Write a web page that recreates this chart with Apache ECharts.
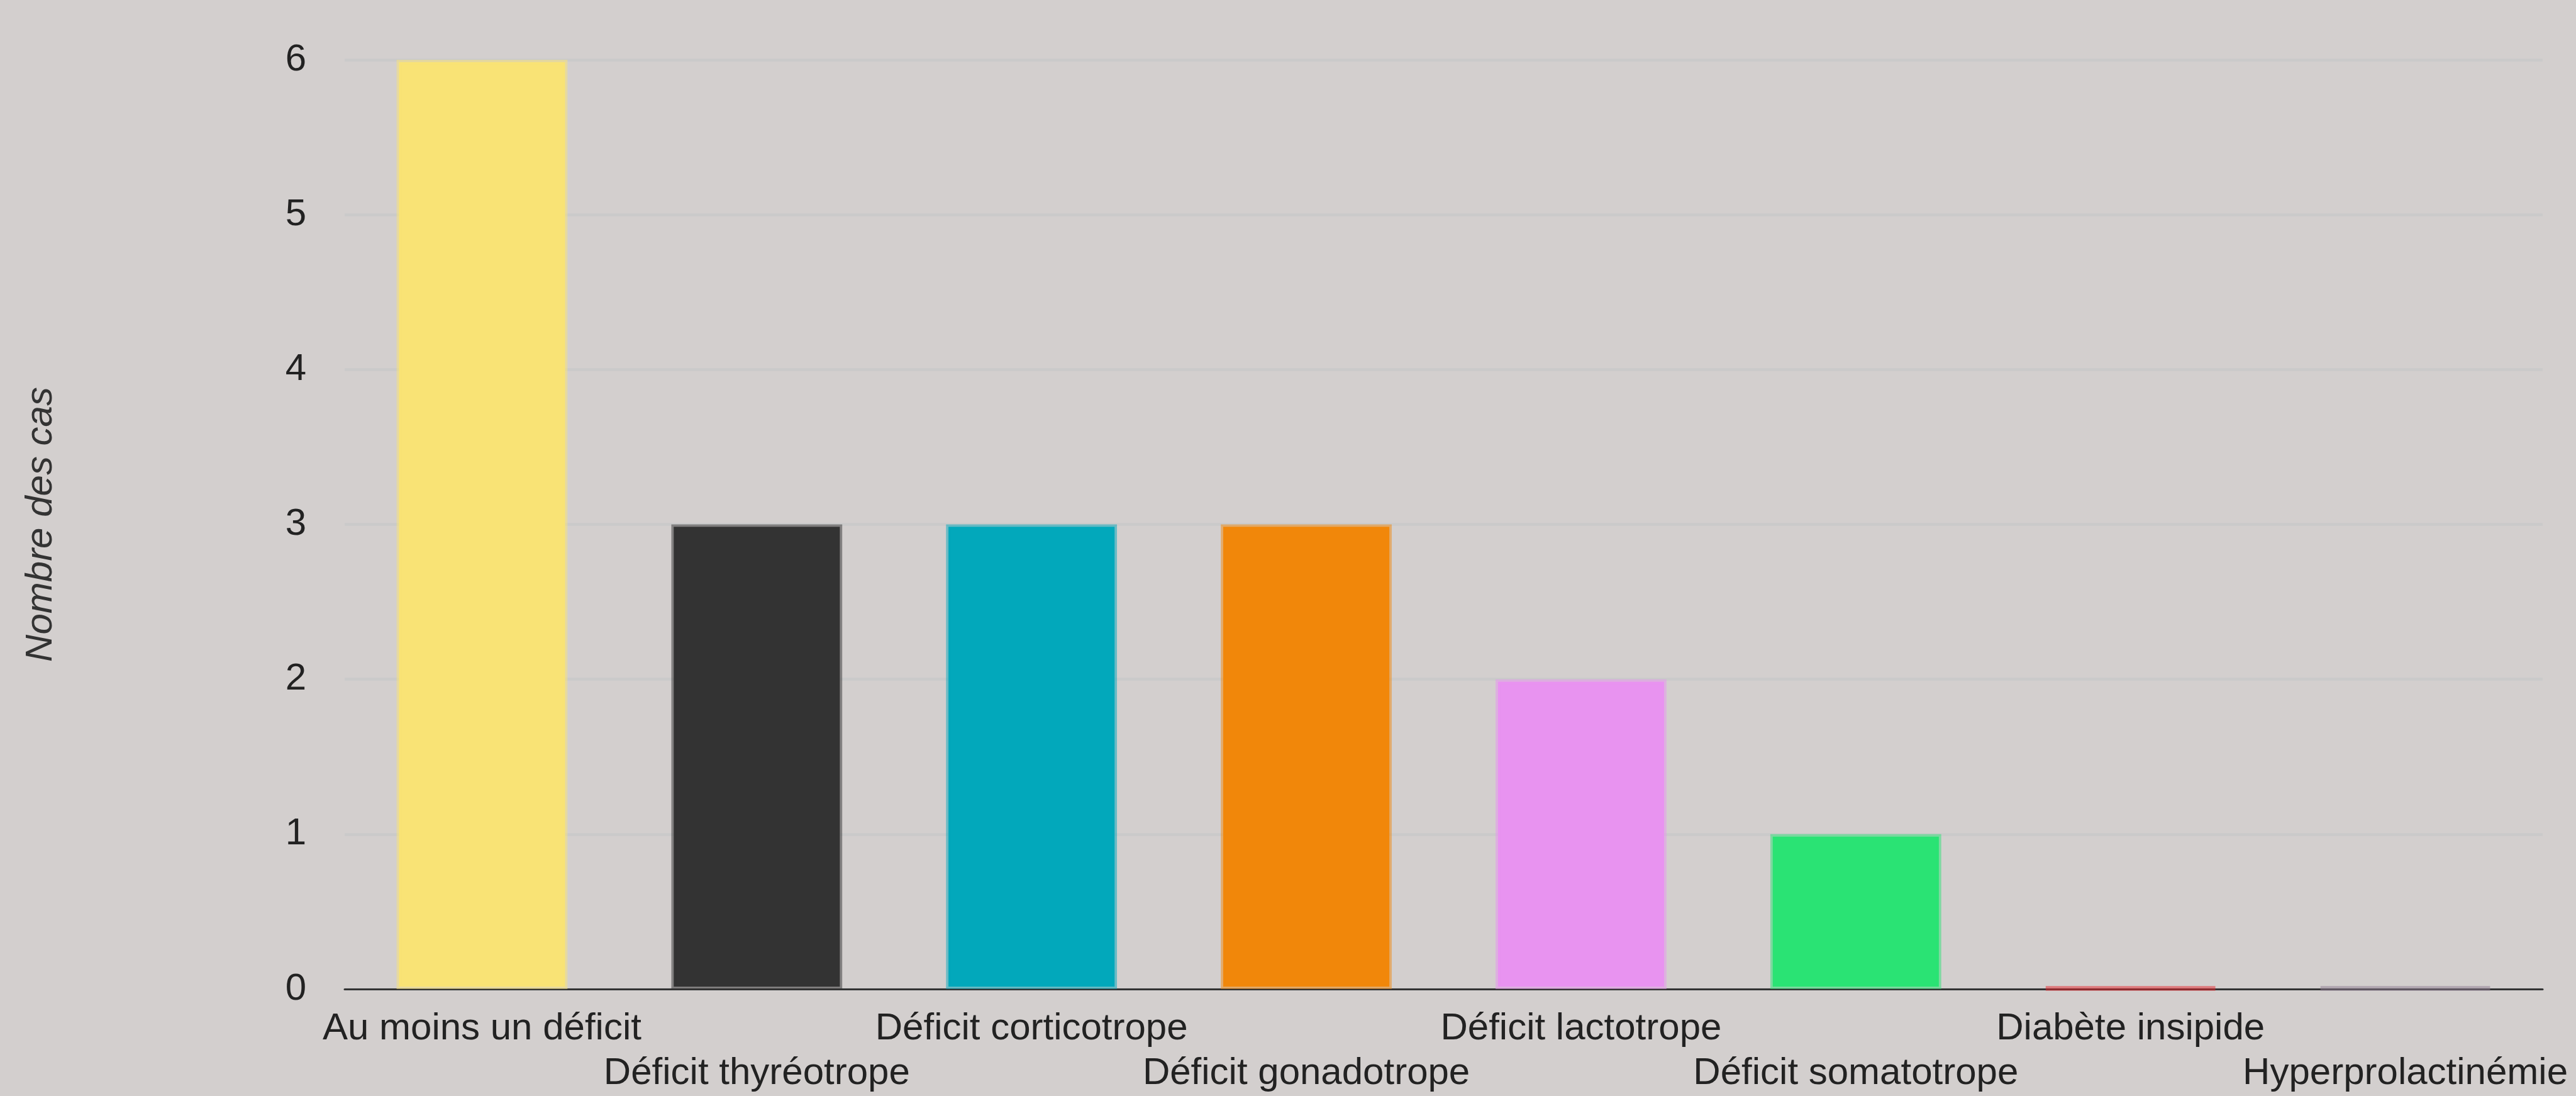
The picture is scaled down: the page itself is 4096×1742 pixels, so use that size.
<!DOCTYPE html>
<html>
<head>
<meta charset="utf-8">
<script src="https://cdn.jsdelivr.net/npm/echarts@6/dist/echarts.min.js"></script>
<style>
  html, body { margin: 0; padding: 0; background: #d3cfce; }
  #chart { width: 4096px; height: 1742px; }
</style>
</head>
<body>
<div id="chart"></div>
<script>
// Categories of pituitary dysfunction and number of cases
const categories = [
  'Au moins un déficit',
  'Déficit thyréotrope',
  'Déficit corticotrope',
  'Déficit gonadotrope',
  'Déficit lactotrope',
  'Déficit somatotrope',
  'Diabète insipide',
  'Hyperprolactinémie'
];
const cases = [6, 3, 3, 3, 2, 1, 0, 0];
const barColors = ['#f9e375', '#333333', '#02a8bb', '#f1870a', '#e893f0', '#2ae374', '#e8262b', '#8e7c90'];
const yTicks = { min: 0, max: 6, interval: 1 };
const yAxisTitle = 'Nombre des cas';

// same hue, half transparent: used for the soft outline around each bar
function withAlpha(hex, a) {
  const n = parseInt(hex.slice(1), 16);
  return 'rgba(' + ((n >> 16) & 255) + ',' + ((n >> 8) & 255) + ',' + (n & 255) + ',' + a + ')';
}

const chart = echarts.init(document.getElementById('chart'), null, { renderer: 'canvas' });
const font = '"Liberation Sans", Arial, sans-serif';

chart.setOption({
  backgroundColor: '#d3cfce',
  animation: false,
  grid: { left: 548, right: 53, top: 95, bottom: 162, containLabel: false },
  xAxis: {
    type: 'category',
    data: categories,
    axisLine: { show: true, lineStyle: { color: '#333333', width: 3 } },
    axisTick: { show: false },
    axisLabel: {
      interval: 0,
      margin: 28,
      color: '#222222',
      fontFamily: font,
      fontSize: 60,
      lineHeight: 71,
      // alternate labels drop to a second row so long names do not collide
      formatter: function (v, i) { return i % 2 ? '\n' + v : v; }
    }
  },
  yAxis: {
    type: 'value',
    min: yTicks.min,
    max: yTicks.max,
    interval: yTicks.interval,
    name: yAxisTitle,
    nameLocation: 'middle',
    nameGap: 453,
    nameTextStyle: { fontFamily: font, fontSize: 60, fontStyle: 'italic', color: '#333333' },
    axisLine: { show: false },
    axisTick: { show: false },
    axisLabel: { margin: 61, color: '#222222', fontFamily: font, fontSize: 60 },
    splitLine: { show: true, lineStyle: { color: '#cacaca', width: 4.5 } }
  },
  series: [{
    type: 'bar',
    data: cases.map(function (v, i) {
      return {
        value: v,
        itemStyle: { color: barColors[i], borderColor: withAlpha(barColors[i], 0.5), borderWidth: 7.6 }
      };
    }),
    barCategoryGap: '37.8%',
    barMinHeight: 2
  }]
});
</script>
</body>
</html>
